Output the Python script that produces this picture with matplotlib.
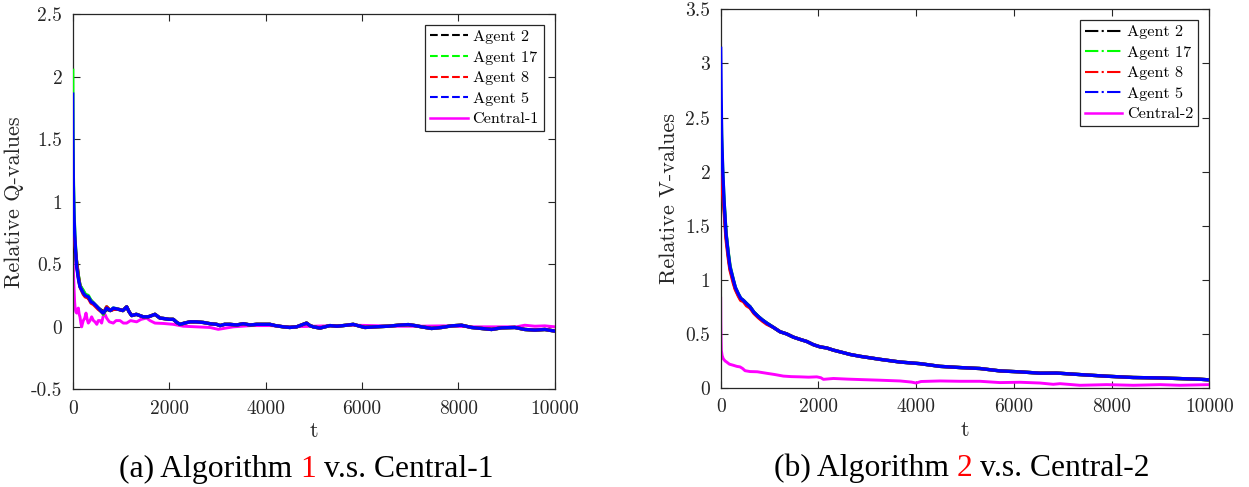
"""Relative Q / V values of selected agents vs. the central learner (two panels)."""
import matplotlib
matplotlib.use('Agg')
import matplotlib.pyplot as plt
from matplotlib.lines import Line2D
from matplotlib.offsetbox import TextArea, HPacker, AnchoredOffsetbox

plt.rcParams['font.family'] = ['cmr10', 'DejaVu Serif']
plt.rcParams['axes.unicode_minus'] = False
plt.rcParams['mathtext.fontset'] = 'cm'

# ──────────────────────────────────────────────────────────────────────
# data
# ──────────────────────────────────────────────────────────────────────
# (a) relative Q-values, agents share one time grid
t_q = [0, 5, 13, 30, 48, 82, 120, 151, 220, 260,
       324, 380, 428, 480, 531, 600, 635, 704, 780, 842,
       950, 1040, 1119, 1170, 1223, 1320, 1464, 1560, 1603, 1706,
       1810, 1879, 2000, 2086, 2160, 2225, 2320, 2432, 2560, 2708,
       2850, 2985, 3054, 3150, 3261, 3400, 3538, 3680, 3814, 3950,
       4090, 4200, 4367, 4500, 4643, 4780, 4850, 4920, 4988, 5127,
       5230, 5334, 5480, 5610, 5720, 5817, 5955, 6060, 6268, 6544,
       6751, 6958, 7100, 7234, 7442, 7649, 7856, 8063, 8271, 8478,
       8685, 8893, 9169, 9376, 9583, 9791, 10000]
agent5_q = [1.86, 1.50, 1.14, 0.85, 0.69, 0.48, 0.38, 0.32, 0.27, 0.25,
            0.24, 0.20, 0.19, 0.17, 0.15, 0.12, 0.11, 0.15, 0.13, 0.15,
            0.14, 0.13, 0.16, 0.12, 0.09, 0.10, 0.08, 0.08, 0.085, 0.10,
            0.07, 0.067, 0.06, 0.06, 0.035, 0.02, 0.03, 0.04, 0.04, 0.035,
            0.025, 0.02, 0.01, 0.02, 0.02, 0.015, 0.025, 0.015, 0.02, 0.02,
            0.02, 0.01, 0.0, -0.005, 0.0, 0.02, 0.03, 0.01, 0.0, -0.01,
            0.0, 0.01, 0.005, 0.01, 0.015, 0.02, 0.005, -0.005, 0.0, 0.005,
            0.013, 0.018, 0.01, 0.0, -0.013, -0.005, 0.008, 0.013, -0.005, -0.013,
            -0.021, -0.008, -0.005, -0.021, -0.026, -0.021, -0.034]
# the other agents only differ visibly in the first ~850 steps, after that
# they sit right under agent 5
agent2_q = [1.00, 0.95, 0.90, 0.78, 0.62, 0.52, 0.40, 0.33, 0.28, 0.26,
            0.23, 0.21, 0.19, 0.17, 0.15, 0.13, 0.11, 0.14, 0.13, 0.14] + agent5_q[20:]
agent17_q = [2.05, 1.55, 1.20, 0.88, 0.70, 0.50, 0.40, 0.33, 0.29, 0.26,
             0.25, 0.21, 0.19, 0.17, 0.15, 0.12, 0.10, 0.16, 0.13, 0.15] + agent5_q[20:]
agent8_q = [0.95, 0.90, 0.85, 0.75, 0.66, 0.50, 0.39, 0.32, 0.26, 0.24,
            0.23, 0.19, 0.18, 0.16, 0.14, 0.12, 0.11, 0.16, 0.13, 0.14] + agent5_q[20:]

t_c1 = [0, 5, 15, 27, 40, 48, 65, 82, 100, 117,
        135, 151, 170, 186, 205, 220, 250, 276, 300, 324,
        360, 393, 430, 462, 500, 530, 566, 600, 635, 670,
        704, 760, 842, 900, 981, 1050, 1119, 1200, 1326, 1420,
        1534, 1603, 1706, 1879, 2086, 2293, 2570, 2846, 3019, 3330,
        3700, 4100, 4500, 5000, 5500, 5853, 6200, 6700, 7200, 7700,
        8300, 8800, 9200, 9376, 9583, 9791, 10000]
central1 = [0.88, 0.62, 0.45, 0.32, 0.20, 0.16, 0.12, 0.11, 0.14, 0.15,
            0.10, 0.08, 0.03, 0.0, 0.03, 0.05, 0.07, 0.11, 0.06, 0.03,
            0.05, 0.08, 0.05, 0.04, 0.02, 0.05, 0.05, 0.03, 0.09, 0.10,
            0.07, 0.04, 0.03, 0.05, 0.05, 0.03, 0.03, 0.05, 0.04, 0.06,
            0.07, 0.05, 0.03, 0.027, 0.02, 0.005, 0.0, -0.005, -0.02, 0.0,
            0.01, 0.01, 0.0, 0.005, 0.01, 0.013, 0.01, 0.005, 0.005, 0.008,
            0.0, 0.0, 0.0, 0.013, 0.005, 0.008, 0.0]

# (b) relative V-values
t_v = [0, 10, 20, 40, 68, 109, 156, 191, 259, 300,
       362, 410, 464, 530, 601, 680, 771, 850, 942, 1080,
       1215, 1350, 1488, 1620, 1762, 1900, 2035, 2170, 2307, 2480,
       2650, 2851, 3260, 3670, 4079, 4488, 4898, 5307, 5716, 6125,
       6535, 6876, 7353, 7899, 8445, 8991, 9400, 9809, 10000]
agent5_v = [3.14, 2.70, 2.35, 2.04, 1.74, 1.43, 1.24, 1.12, 1.00, 0.93,
            0.87, 0.83, 0.81, 0.78, 0.75, 0.70, 0.66, 0.63, 0.60, 0.56,
            0.52, 0.50, 0.47, 0.45, 0.43, 0.40, 0.38, 0.37, 0.35, 0.33,
            0.31, 0.293, 0.265, 0.24, 0.225, 0.20, 0.189, 0.18, 0.158, 0.149,
            0.137, 0.138, 0.124, 0.109, 0.097, 0.093, 0.087, 0.081, 0.075]
agent2_v = [1.85, 1.95, 1.98, 1.90, 1.70, 1.42, 1.23, 1.11, 0.99, 0.92,
            0.86, 0.82] + agent5_v[12:]
agent17_v = [2.60, 2.55, 2.30, 2.02, 1.74, 1.44, 1.25, 1.13, 1.00, 0.93,
             0.87, 0.83] + agent5_v[12:]
agent8_v = [2.30, 2.15, 2.00, 1.80, 1.66, 1.38, 1.20, 1.09, 0.97, 0.91,
            0.85, 0.81, 0.80, 0.76, 0.74, 0.69, 0.65, 0.62, 0.59] + agent5_v[19:]

t_c2 = [0, 3, 8, 13, 30, 53, 90, 122, 180, 259,
        330, 396, 450, 498, 601, 750, 942, 1100, 1283, 1450,
        1625, 1800, 1967, 2050, 2103, 2307, 2600, 2851, 3260, 3670,
        3900, 4000, 4100, 4488, 4898, 5307, 5716, 6125, 6535, 6807,
        6944, 7353, 7899, 8445, 8991, 9400, 10000]
central2 = [0.83, 0.60, 0.45, 0.35, 0.30, 0.27, 0.25, 0.24, 0.22, 0.21,
            0.20, 0.195, 0.18, 0.16, 0.152, 0.15, 0.136, 0.125, 0.11, 0.105,
            0.103, 0.10, 0.103, 0.095, 0.08, 0.088, 0.082, 0.078, 0.072, 0.065,
            0.055, 0.046, 0.06, 0.065, 0.062, 0.062, 0.05, 0.053, 0.046, 0.034,
            0.04, 0.025, 0.031, 0.025, 0.031, 0.025, 0.031]

agent_names = ['Agent 2', 'Agent 17', 'Agent 8', 'Agent 5']
agent_colors = ['#000000', '#00ff00', '#ff0000', '#0000ff']
x_ticks = [0, 2000, 4000, 6000, 8000, 10000]
q_ticks = [-0.5, 0, 0.5, 1, 1.5, 2, 2.5]
q_labels = ['-0.5', '0', '0.5', '1', '1.5', '2', '2.5']
v_ticks = [0, 0.5, 1, 1.5, 2, 2.5, 3, 3.5]
v_labels = ['0', '0.5', '1', '1.5', '2', '2.5', '3', '3.5']

GRAY = '#262626'

fig = plt.figure(figsize=(12.49, 4.87), dpi=100)
ax_q = fig.add_axes([0.0582, 0.2004, 0.3861, 0.7708])
ax_v = fig.add_axes([0.5770, 0.2033, 0.3912, 0.7774])


def draw_panel(ax, t_agent, agents, t_c, central, c_name, style, ylab,
               yticks, ylabels, ylim, leg_anchor, label_x):
    # central first so the agent curves cover it where they coincide
    ax.plot(t_c, central, color='#ff00ff', lw=2.1, zorder=2)
    for vals, col in zip(agents, agent_colors):
        ax.plot(t_agent, vals, color=col, lw=2.4, zorder=3)
    handles = [Line2D([], [], color=c, ls=style, lw=1.5) for c in agent_colors]
    handles.append(Line2D([], [], color='#ff00ff', ls='-', lw=1.8))
    leg = ax.legend(handles, agent_names + [c_name], loc='upper right',
                    bbox_to_anchor=leg_anchor, borderaxespad=0, fancybox=False,
                    edgecolor=GRAY, framealpha=1, fontsize=11.7,
                    handlelength=2.3, handletextpad=0.3, labelspacing=0.38,
                    borderpad=0.3)
    leg.get_frame().set_linewidth(0.9)
    ax.set_xlim(0, 10000)
    ax.set_ylim(*ylim)
    ax.set_xticks(x_ticks)
    ax.set_xticklabels([str(v) for v in x_ticks])
    ax.set_yticks(yticks)
    ax.set_yticklabels(ylabels)
    ax.tick_params(direction='in', top=True, right=True, length=5, width=0.8,
                   colors=GRAY, labelsize=14, pad=7.5)
    for sp in ax.spines.values():
        sp.set_color(GRAY)
        sp.set_linewidth(0.9)
    ax.set_xlabel('t', fontsize=16, color=GRAY, labelpad=3)
    ax.set_ylabel(ylab, fontsize=16, color=GRAY)
    ax.yaxis.set_label_coords(label_x, 0.5)


draw_panel(ax_q, t_q, [agent2_q, agent17_q, agent8_q, agent5_q], t_c1, central1,
           'Central-1', '--', 'Relative Q-values', q_ticks, q_labels,
           (-0.5, 2.5), (0.977, 0.971), -0.100)
draw_panel(ax_v, t_v, [agent2_v, agent17_v, agent8_v, agent5_v], t_c2, central2,
           'Central-2', '-.', 'Relative V-values', v_ticks, v_labels,
           (0, 3.5), (0.977, 0.972), -0.085)


# ──────────────────────────────────────────────────────────────────────
# sub-captions, algorithm number in red
# ──────────────────────────────────────────────────────────────────────
def caption(xc, yc, before, num, after):
    kw = dict(fontsize=22.8, family='Liberation Serif')
    parts = [TextArea(before, textprops=dict(color='black', **kw)),
             TextArea(num, textprops=dict(color='red', **kw)),
             TextArea(after, textprops=dict(color='black', **kw))]
    box = AnchoredOffsetbox(loc='center', child=HPacker(children=parts, sep=5.7, pad=0),
                            bbox_to_anchor=(xc, yc), bbox_transform=fig.transFigure,
                            frameon=False, pad=0, borderpad=0)
    fig.add_artist(box)


caption(0.245, 0.037, '(a) Algorithm', '1', 'v.s. Central-1')
caption(0.770, 0.039, '(b) Algorithm', '2', 'v.s. Central-2')

fig.savefig('out.png', dpi=100)
plt.close(fig)
